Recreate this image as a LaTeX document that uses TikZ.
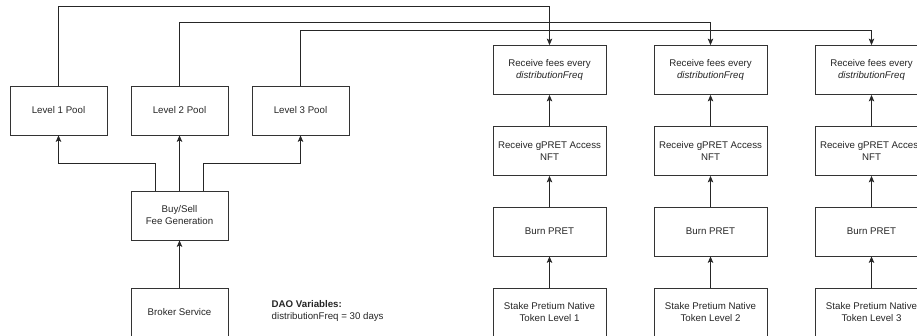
\documentclass[tikz,border=0pt]{standalone}
\usepackage{fontspec}
\setmainfont{Liberation Sans}
\usepackage{xcolor}
\usepackage{tikz}
\usetikzlibrary{arrows.meta}

\begin{document}
\begin{tikzpicture}%
                    [x={(1pt, 0pt)},
                    y={(0pt, -1pt)},
                    line width=0.8pt,
                    >={Stealth[length=6.5pt, width=5.5pt, inset=1.5pt]},
                    box/.style={draw=black!80, fill=white, align=center, inner sep=0pt,
                                minimum width=97pt, minimum height=49pt,
                                font=\fontsize{9.7}{12}\selectfont, text=black!85},
                    wbox/.style={box, minimum width=113pt},
                    link/.style={color=black!85, ->}]

                %% Fixing the page
                \useasboundingbox (0,0) rectangle (917,336);
                %%
                %% Left side: pools and fee generation
                %%
                \node[box] (pool1) at (58.5, 110.5) {Level 1 Pool};
                \node[box] (pool2) at (179.5, 110.5) {Level 2 Pool};
                \node[box] (pool3) at (300.5, 110.5) {Level 3 Pool};
                \node[box] (fee) at (179.5, 215.5) {Buy/Sell\\Fee Generation};
                \node[box] (broker) at (179.5, 312.5) {Broker Service};
                \node[anchor=west, align=left, font=\fontsize{9.7}{12}\selectfont, text=black!85]
                    (dao) at (268, 311) {\textbf{DAO Variables:}\\distributionFreq = 30 days};
                %%
                %% Right side: one column per level
                %%
                \foreach \i/\x in {1/549.5, 2/710.5, 3/871.5}
                {
                    \node[wbox] (recv\i) at (\x, 70) {Receive fees every\\\textit{distributionFreq}};
                    \node[wbox] (nft\i) at (\x, 151) {Receive gPRET Access\\NFT};
                    \node[wbox] (burn\i) at (\x, 231.5) {Burn PRET};
                    \node[wbox] (stake\i) at (\x, 312.5) {Stake Pretium Native\\Token Level \i};
                    \draw[link] (stake\i) -- (burn\i);
                    \draw[link] (burn\i) -- (nft\i);
                    \draw[link] (nft\i) -- (recv\i);
                }
                %%
                %% Drawing the connectors
                %%
                \coordinate (bus1) at (0, 6);
                \coordinate (bus2) at (0, 22);
                \coordinate (bus3) at (0, 30);
                \coordinate (split) at (0, 163);
                \draw[link] (broker) -- (fee);
                \draw[link] (fee) -- (pool2);
                \draw[link] ([xshift=-24.5pt]fee.north) -- ([xshift=-24.5pt]fee.north |- split) -| (pool1);
                \draw[link] ([xshift=23.5pt]fee.north) -- ([xshift=23.5pt]fee.north |- split) -| (pool3);
                \draw[link] (pool1) -- (pool1 |- bus1) -| (recv1);
                \draw[link] (pool2) -- (pool2 |- bus2) -| (recv2);
                \draw[link] (pool3) -- (pool3 |- bus3) -| (recv3);
                %%
                %%
\end{tikzpicture}
\end{document}
